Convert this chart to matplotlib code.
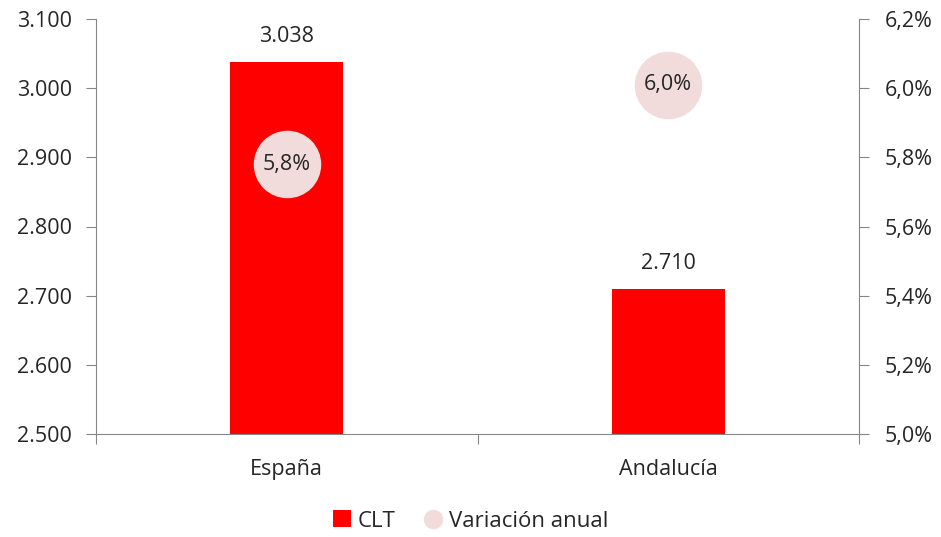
import matplotlib
matplotlib.use("Agg")
import matplotlib.pyplot as plt
from matplotlib.lines import Line2D
from matplotlib.patches import Patch

categories = ["España", "Andalucía"]
clt = [3038, 2710]
variacion = [5.78, 6.01]
variacion_labels = ["5,8%", "6,0%"]
left_ticks = [2500, 2600, 2700, 2800, 2900, 3000, 3100]
right_ticks = [5.0, 5.2, 5.4, 5.6, 5.8, 6.0, 6.2]

plt.rcParams['font.family'] = ['Open Sans', 'DejaVu Sans']
RED = "#FF0000"
PINK = "#F2DCDB"
GRID = "#868686"
TXT = "#262626"
FS = 15.5

fig = plt.figure(figsize=(9.41, 5.37), dpi=100)
ax = fig.add_axes([96/941, 1-434/537, (859-96)/941, (434-19)/537])
x = [0, 1]
ax.bar(x, [v - left_ticks[0] for v in clt], bottom=left_ticks[0], width=0.296, color=RED, zorder=2)
ax.set_xlim(-0.5, 1.5)
ax.set_ylim(left_ticks[0], left_ticks[-1])
ax.set_yticks(left_ticks)
ax.set_yticklabels([f"{v:,}".replace(",", ".") for v in left_ticks], fontsize=FS, color=TXT)
for xi, v in zip(x, clt):
    ax.text(xi, v + 22, f"{v:,}".replace(",", "."), ha="center", va="bottom", fontsize=FS, color=TXT)

ax.set_xticks([-0.5, 0.5, 1.5], minor=False)
ax.set_xticklabels(["", "", ""])
ax.set_xticks(x, minor=True)
ax.set_xticklabels(categories, minor=True, fontsize=FS, color=TXT)
ax.tick_params(axis="x", which="minor", length=0, pad=18)
ax.tick_params(axis="x", which="major", length=7, color=GRID)
ax.tick_params(axis="y", length=7.5, color=GRID, pad=10)
for s in ["top", "right"]:
    ax.spines[s].set_visible(False)
for s in ["left", "bottom"]:
    ax.spines[s].set_color(GRID)

ax2 = ax.twinx()
ax2.set_ylim(right_ticks[0], right_ticks[-1])
ax2.set_yticks(right_ticks)
ax2.set_yticklabels([f"{v:.1f}%".replace(".", ",") for v in right_ticks], fontsize=FS, color=TXT)
ax2.tick_params(axis="y", length=7.5, color=GRID, pad=11)
for s in ["top", "left", "bottom"]:
    ax2.spines[s].set_visible(False)
ax2.spines["right"].set_color(GRID)
ax2.scatter(x, variacion, s=66**2 * 0.52, color=PINK, zorder=3)
for xi, v, lab in zip(x, variacion, variacion_labels):
    ax2.text(xi, v, lab, ha="center", va="center", fontsize=FS, color=TXT, zorder=4)

handles = [Patch(facecolor=RED, label="CLT"),
           Line2D([], [], marker="o", linestyle="none", markersize=13, markerfacecolor=PINK,
                  markeredgecolor=PINK, label="Variación anual")]
fig.legend(handles=handles, loc="center", bbox_to_anchor=(0.5, 1-521/537), ncol=2, frameon=False,
           fontsize=16, handlelength=0.8, handleheight=0.8, handletextpad=0.3, columnspacing=1.3,
           labelcolor=TXT)

fig.savefig("out.png", dpi=100)
